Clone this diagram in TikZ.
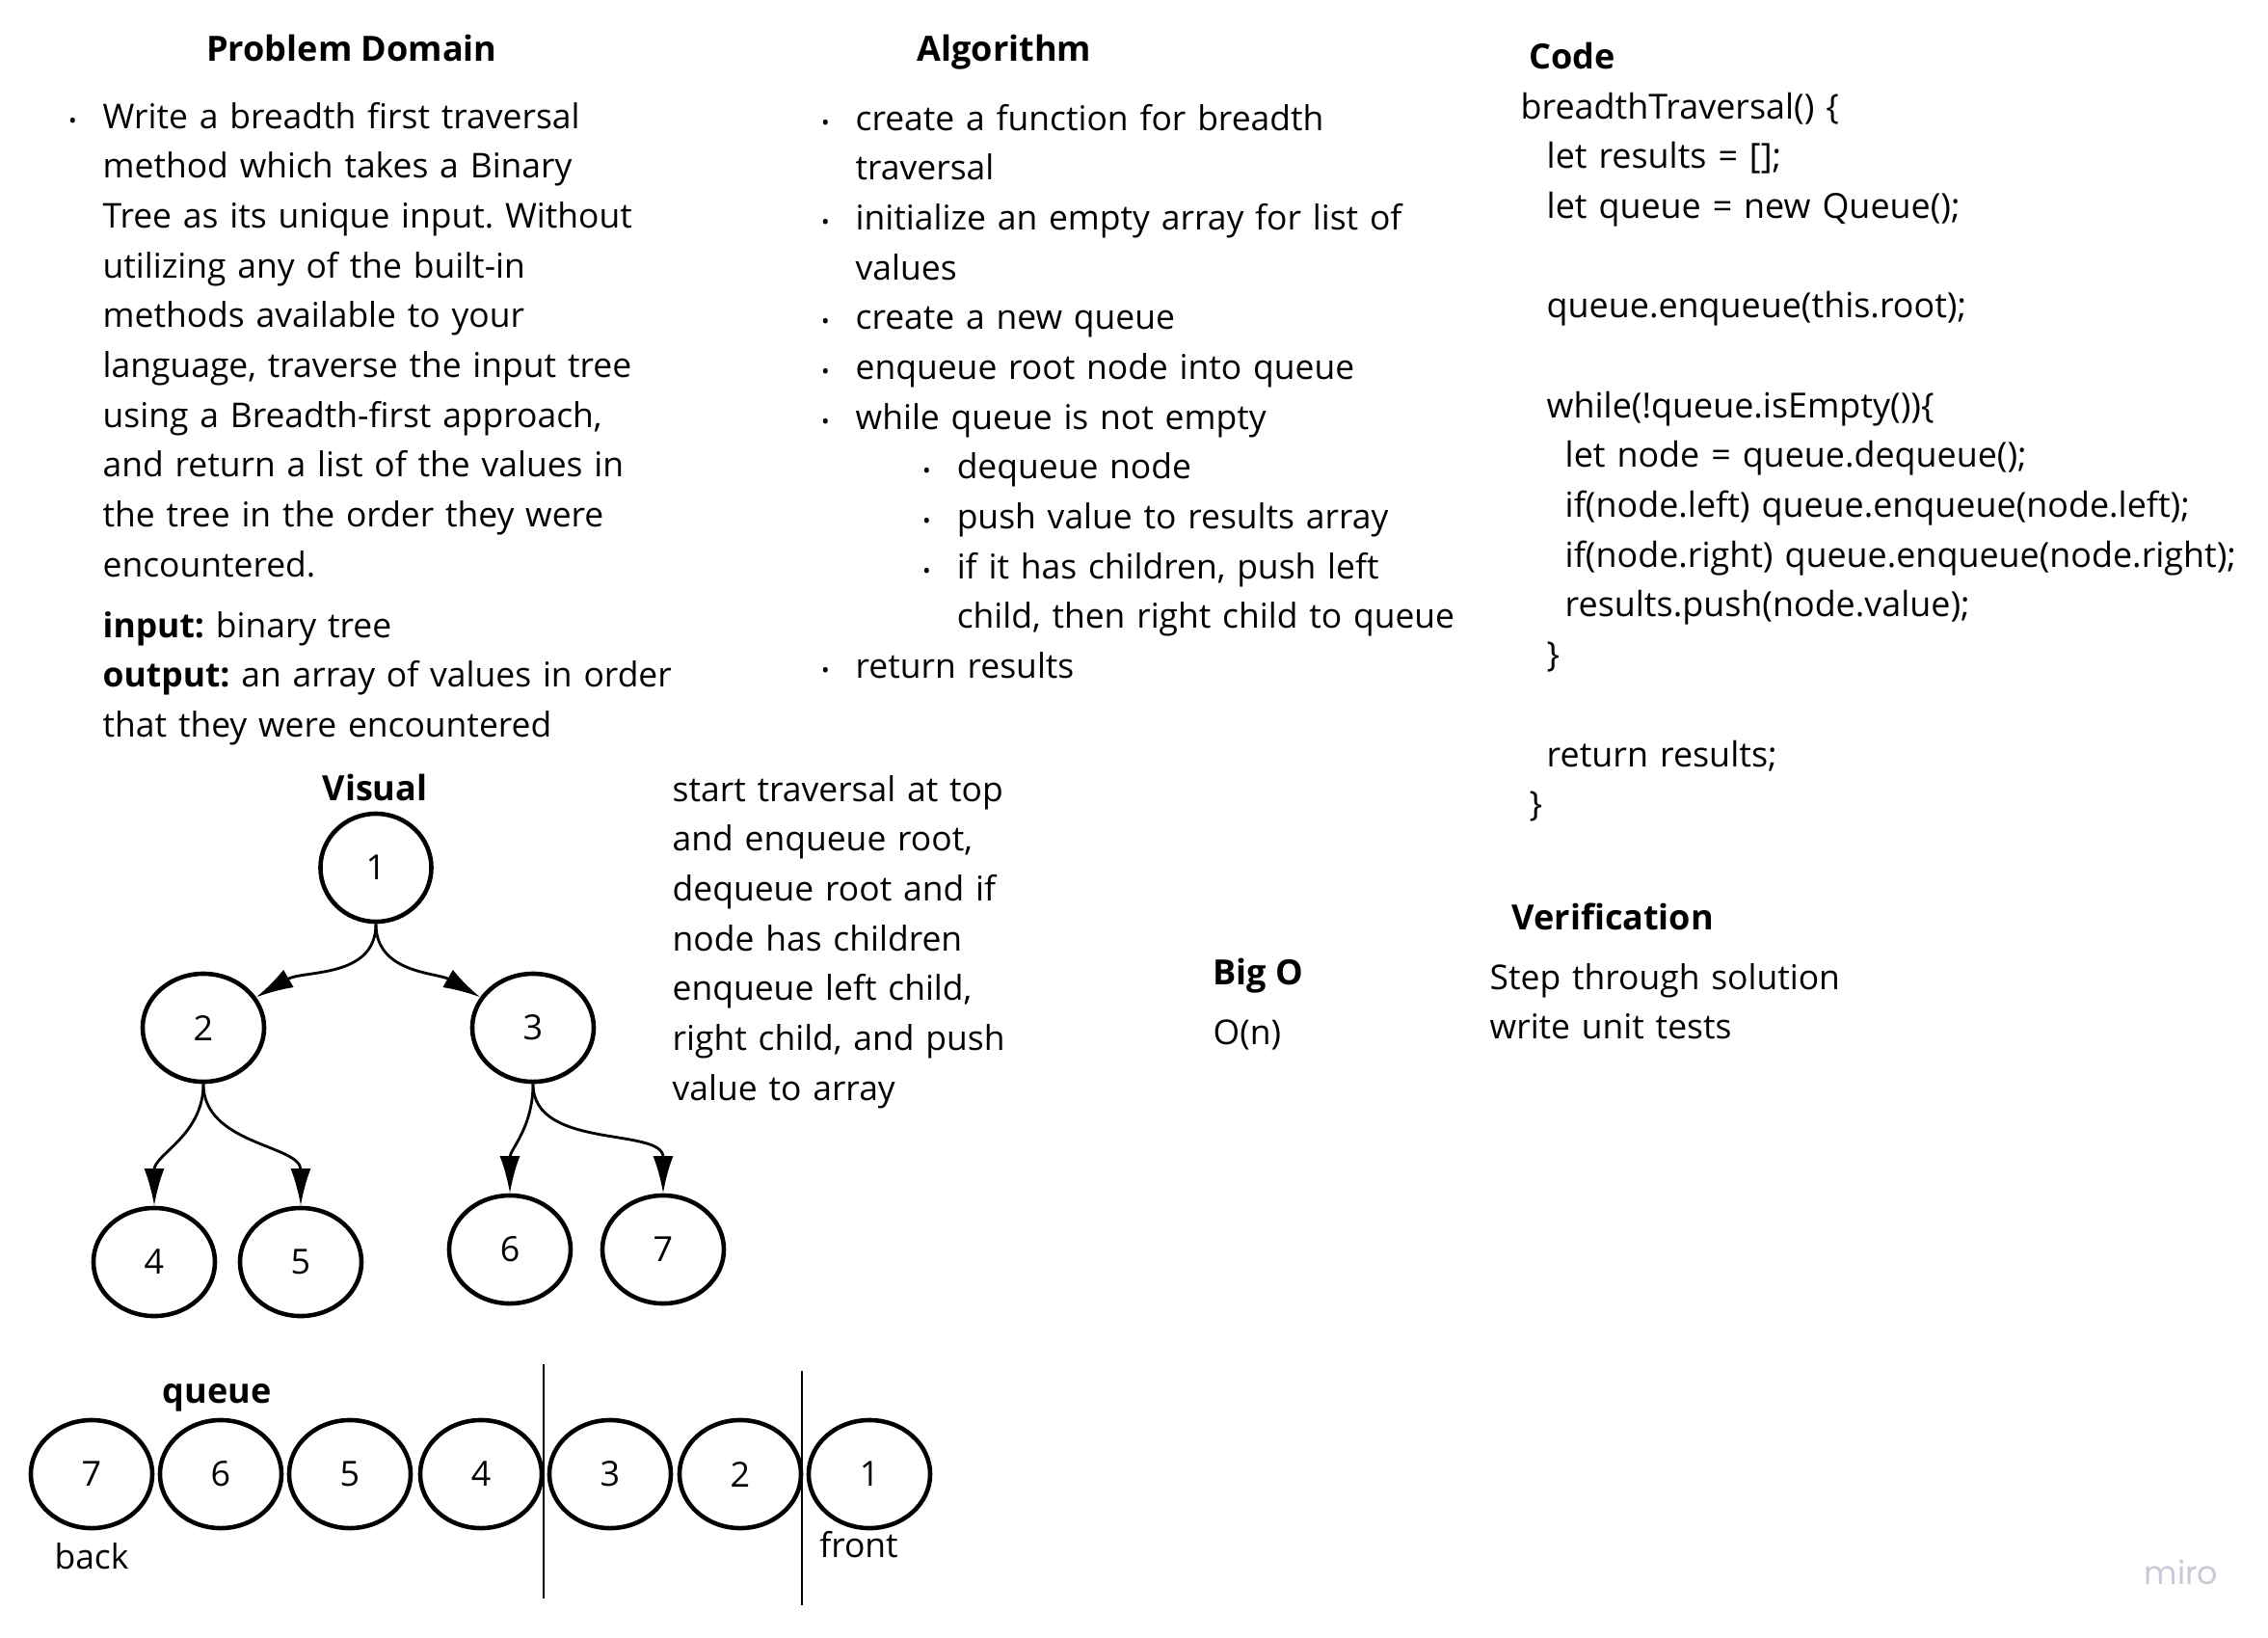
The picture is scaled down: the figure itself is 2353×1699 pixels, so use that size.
\documentclass[tikz,border=0pt]{standalone}
\usepackage{fontspec}
\setmainfont{Open Sans}
\newfontfamily\mirofont{Poppins}
\usepackage{xcolor}
\usetikzlibrary{positioning}
\usetikzlibrary{shapes.geometric,arrows.meta}
\definecolor{MiroGray}{RGB}{200,202,215}
\frenchspacing
\newcommand{\bul}{\leavevmode\llap{\fontsize{6.5}{6.5}\selectfont\textbullet\hspace{0.27cm}}}
\tikzset{%
  treeNode/.style={ellipse, draw=black, line width=1.3pt, minimum width=1.26cm, minimum height=1.12cm, inner sep=0pt, font=\fontsize{10.2}{14.7}\selectfont},
  rootNode/.style={treeNode, minimum width=1.15cm},
  queueNode/.style={treeNode},
  % ----
  % text
  % ----
  heading/.style={inner sep=0pt, font=\fontsize{10.25}{14.7}\selectfont\bfseries},
  bodyText/.style={inner sep=0pt, anchor=base west, text width=#1, align=left, font=\fontsize{10.08}{14.7}\selectfont},
  bodyText/.default=8cm,
  codeText/.style={bodyText=9cm, font=\fontsize{10.2}{14.7}\selectfont},
  %
  treeEdge/.style={-{Latex[length=11pt,width=6pt]}, line width=0.8pt},
  divider/.style={line width=0.6pt}
}

\begin{document}
\begin{tikzpicture}[x=0.01cm, y=0.01cm]
    \path[fill=white] (0,0) rectangle (2353,-1699);
    \useasboundingbox (0,0) rectangle (2353,-1699);

    %Headings
    \node[heading, anchor=base] (domainTitle) at (365,-63) {Problem Domain};
    \node[heading, anchor=base] (algoTitle) at (1042,-63) {Algorithm};
    \node[heading, anchor=base west] (codeTitle) at (1586,-71) {Code};
    \node[heading, anchor=base] (visualTitle) at (389,-830) {Visual};
    \node[heading, anchor=base] (queueTitle) at (225,-1455) {queue};
    \node[heading, anchor=base west] (bigoTitle) at (1258,-1021) {Big O};
    \node[heading, anchor=base west] (verifTitle) at (1568,-964) {Verification};

    %Texts
    \node[bodyText] (domainText) at (106,-133) {\bul Write a breadth first traversal\\
        method which takes a Binary\\
        Tree as its unique input. Without\\
        utilizing any of the built-in\\
        methods available to your\\
        language, traverse the input tree\\
        using a Breadth-first approach,\\
        and return a list of the values in\\
        the tree in the order they were\\
        encountered.};
    \node[bodyText] (domainIO) at (106,-661) {\textbf{input:} binary tree\\
        \textbf{output:} an array of values in order\\
        that they were encountered};

    \node[bodyText] (algoText) at (887,-135) {\bul create a function for breadth\\
        traversal\\
        \bul initialize an empty array for list of\\
        values\\
        \bul create a new queue\\
        \bul enqueue root node into queue\\
        \bul while queue is not empty\\
        \hspace*{1.05cm}\bul dequeue node\\
        \hspace*{1.05cm}\bul push value to results array\\
        \hspace*{1.05cm}\bul if it has children, push left\\
        \hspace*{1.05cm}child, then right child to queue\\
        \bul return results};

    \node[codeText] (codeLines) at (1577,-123) {breadthTraversal() \{\\
        \hspace*{0.27cm}let results = [];\\
        \hspace*{0.27cm}let queue = new Queue();\\
        \mbox{}\\
        \hspace*{0.27cm}queue.enqueue(this.root);\\
        \mbox{}\\
        \hspace*{0.27cm}while(!queue.isEmpty())\{\\
        \hspace*{0.46cm}let node = queue.dequeue();\\
        \hspace*{0.46cm}if(node.left) queue.enqueue(node.left);\\
        \hspace*{0.46cm}if(node.right) queue.enqueue(node.right);\\
        \hspace*{0.46cm}results.push(node.value);\\
        \hspace*{0.27cm}\}\\
        \mbox{}\\
        \hspace*{0.27cm}return results;\\
        \hspace*{0.09cm}\}};

    \node[bodyText] (visualText) at (697,-831) {start traversal at top\\
        and enqueue root,\\
        dequeue root and if\\
        node has children\\
        enqueue left child,\\
        right child, and push\\
        value to array};

    \node[bodyText] (bigoText) at (1258,-1083) {O(n)};
    \node[bodyText] (verifText) at (1545,-1026) {Step through solution\\
        write unit tests};

    \node[anchor=base, inner sep=0pt, font=\fontsize{9.5}{10}\mirofont, text=MiroGray] (miroMark) at (2263,-1643) {miro};

    %Tree
    \node[rootNode] (n1) at (390,-900) {1};
    \node[treeNode] (n2) at (211,-1066) {2};
    \node[treeNode] (n3) at (553,-1066) {3};
    \node[treeNode] (n4) at (160,-1309) {4};
    \node[treeNode] (n5) at (312,-1309) {5};
    \node[treeNode] (n6) at (529,-1296) {6};
    \node[treeNode] (n7) at (688,-1296) {7};

    %Queue
    \node[queueNode] (q7) at (95,-1529) {7};
    \node[queueNode] (q6) at (229,-1529) {6};
    \node[queueNode] (q5) at (363,-1529) {5};
    \node[queueNode] (q4) at (499,-1529) {4};
    \node[queueNode] (q3) at (633,-1529) {3};
    \node[queueNode] (q2) at (768,-1529) {2};
    \node[queueNode] (q1) at (902,-1529) {1};
    \node[anchor=base, inner sep=0pt, font=\fontsize{10.08}{14.7}\selectfont] (backLabel) at (95,-1627) {back};
    \node[anchor=base, inner sep=0pt, font=\fontsize{10.08}{14.7}\selectfont] (frontLabel) at (891,-1615) {front};

    \coordinate (cutTopA) at (564,-1415);
    \coordinate (cutBotA) at (564,-1658);
    \coordinate (cutTopB) at (832,-1422);
    \coordinate (cutBotB) at (832,-1665);

    %Lines
    \draw[treeEdge] (n1.south) to[out=-90, in=30] (n2.30);
    \draw[treeEdge] (n1.south) to[out=-90, in=150] (n3.150);
    \draw[treeEdge] (n2.south) to[out=-90, in=90] (n4.north);
    \draw[treeEdge] (n2.south) to[out=-90, in=90] (n5.north);
    \draw[treeEdge] (n3.south) to[out=-90, in=90] (n6.north);
    \draw[treeEdge] (n3.south) to[out=-90, in=90] (n7.north);
    \draw[divider] (cutTopA) -- (cutBotA);
    \draw[divider] (cutTopB) -- (cutBotB);
\end{tikzpicture}
\end{document}
